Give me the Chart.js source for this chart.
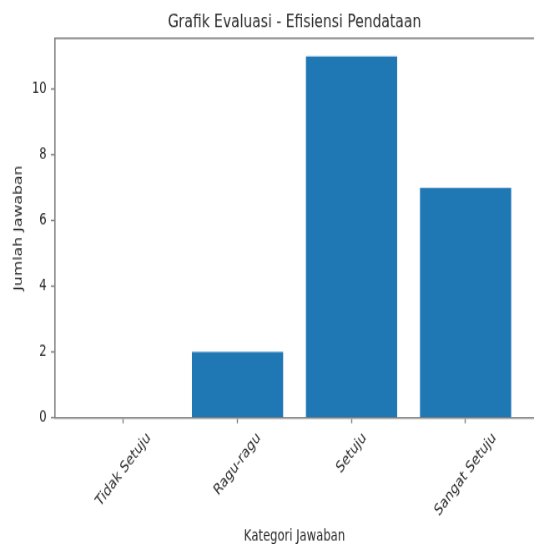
<!DOCTYPE html>
<html>
<head>
<meta charset="utf-8">
<script src="https://cdn.jsdelivr.net/npm/chart.js@4"></script>
<style>
  html, body { margin: 0; padding: 0; background: #fff; overflow: hidden; width: 534px; height: 544px; }
  #page { position: relative; width: 534px; height: 544px; overflow: hidden; }
  /* drawn at 640x480 like the original figure, then stretched to 534x544 */
  #wrap { position: absolute; left: 0; top: 0; width: 640px; height: 480px; transform: scale(0.834375, 1.133333); transform-origin: 0 0; }
</style>
</head>
<body>
<div id="page"><div id="wrap"><canvas id="evalChart" width="640" height="480"></canvas></div></div>
<script>
const categories = ["Tidak Setuju", "Ragu-ragu", "Setuju", "Sangat Setuju"];
const jumlah = [0, 2, 11, 7];
const yTicks = [0, 2, 4, 6, 8, 10];

const spineColor = "#808080";
const textColor = "#2b2b2b";
const fontFamily = "'DejaVu Sans', sans-serif";

// top spine + rotated category labels (centred on the tick like matplotlib)
const extrasPlugin = {
  id: "extras",
  afterDraw(chart) {
    const ctx = chart.ctx;
    const area = chart.chartArea;
    const x = chart.scales.x;
    ctx.save();
    ctx.strokeStyle = spineColor;
    ctx.lineWidth = 1.6;
    ctx.beginPath();
    ctx.moveTo(area.left, area.top);
    ctx.lineTo(area.right, area.top);
    ctx.stroke();

    ctx.font = "13.9px " + fontFamily;
    ctx.fillStyle = textColor;
    ctx.textAlign = "center";
    ctx.textBaseline = "middle";
    const top = area.bottom + 5 + 4.9;
    const h = 13.9 * 1.164;
    categories.forEach((label, i) => {
      const w = ctx.measureText(label).width;
      const cx = x.getPixelForValue(i);
      const cy = top + (w + h) * Math.SQRT1_2 / 2;
      ctx.save();
      ctx.translate(cx, cy);
      ctx.rotate(-Math.PI / 4);
      ctx.fillText(label, 0, 0);
      ctx.restore();
    });
    ctx.restore();
  }
};

new Chart(document.getElementById("evalChart"), {
  type: "bar",
  data: {
    datasets: [{
      data: jumlah.map((v, i) => ({ x: i, y: v })),
      backgroundColor: "#1f77b4",
      borderWidth: 0,
      barPercentage: 0.8,
      categoryPercentage: 1.0
    }]
  },
  plugins: [extrasPlugin],
  options: {
    responsive: false,
    animation: false,
    layout: { padding: { left: 0, right: 0, top: 0, bottom: 0 } },
    plugins: {
      legend: { display: false },
      tooltip: { enabled: false },
      title: {
        display: true,
        text: "Grafik Evaluasi - Efisiensi Pendataan",
        fullSize: false,
        color: textColor,
        font: { family: fontFamily, size: 16.67, weight: "normal", lineHeight: 1.2 },
        padding: { top: 9.3, bottom: 4.5 }
      }
    },
    scales: {
      x: {
        type: "linear",
        min: -0.6,
        max: 3.6,
        offset: false,
        afterBuildTicks: scale => { scale.ticks = categories.map((c, i) => ({ value: i })); },
        ticks: { display: false },
        grid: { display: true, offset: false, drawOnChartArea: false, drawTicks: true, tickLength: 5, tickColor: spineColor, tickWidth: 1.4 },
        border: { display: true, color: spineColor, width: 1.6 },
        title: {
          display: true,
          text: "Kategori Jawaban",
          color: textColor,
          font: { family: fontFamily, size: 13.9, lineHeight: 1.2 },
          padding: { top: 91.8, bottom: -2 }
        }
      },
      y: {
        min: 0,
        max: 11.55,
        afterBuildTicks: scale => { scale.ticks = yTicks.map(v => ({ value: v })); },
        ticks: { color: textColor, padding: 5, font: { family: fontFamily, size: 13.9 } },
        grid: { display: true, drawOnChartArea: false, drawTicks: true, tickLength: 5, tickColor: spineColor, tickWidth: 1.4 },
        border: { display: true, color: spineColor, width: 1.6 },
        title: {
          display: true,
          text: "Jumlah Jawaban",
          color: textColor,
          font: { family: fontFamily, size: 13.9, lineHeight: 1.2 },
          padding: { top: 14.5, bottom: 2.1 }
        }
      }
    }
  }
});
</script>
</body>
</html>
